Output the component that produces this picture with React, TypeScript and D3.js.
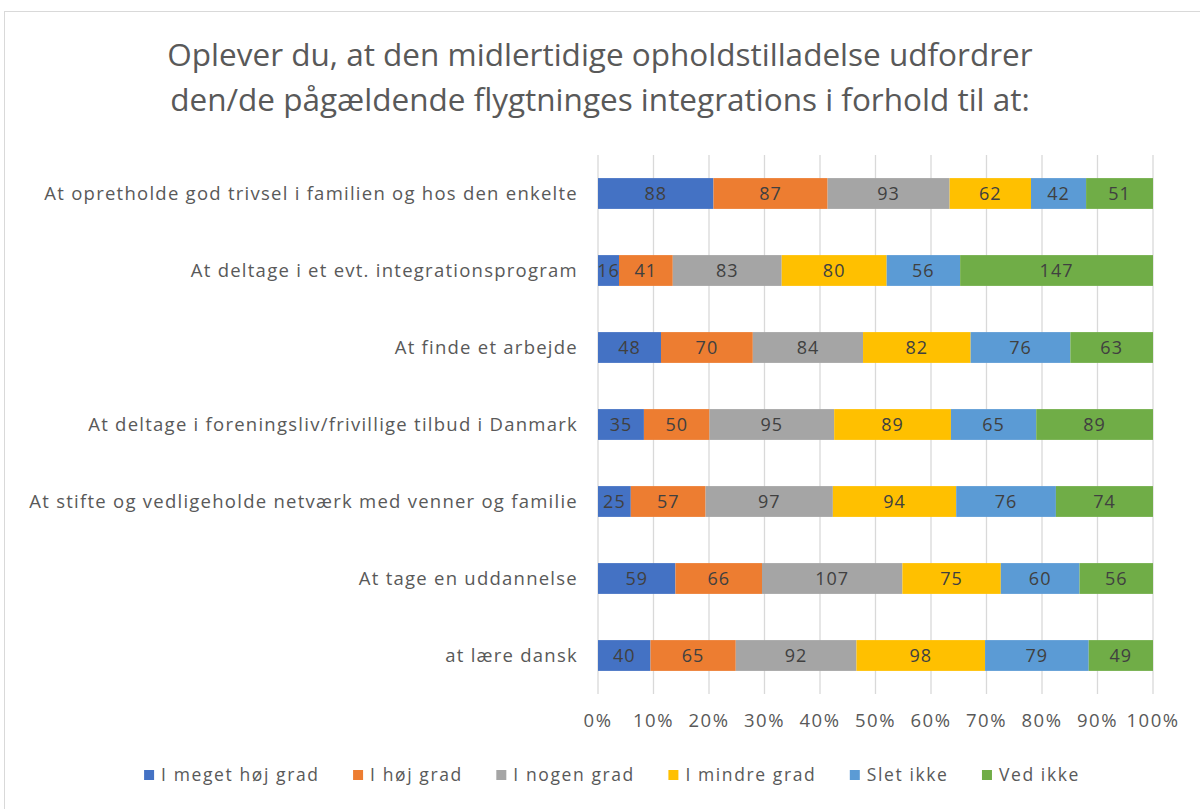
import { useMemo } from 'react';
import * as d3 from 'd3';

const categories = [
    'At opretholde god trivsel i familien og hos den enkelte',
    'At deltage i et evt. integrationsprogram',
    'At finde et arbejde',
    'At deltage i foreningsliv/frivillige tilbud i Danmark',
    'At stifte og vedligeholde netværk med venner og familie',
    'At tage en uddannelse',
    'at lære dansk',
];
const seriesNames = ['I meget høj grad', 'I høj grad', 'I nogen grad', 'I mindre grad', 'Slet ikke', 'Ved ikke'];
const megetHoej = [88, 16, 48, 35, 25, 59, 40];
const hoej = [87, 41, 70, 50, 57, 66, 65];
const nogen = [93, 83, 84, 95, 97, 107, 92];
const mindre = [62, 80, 82, 89, 94, 75, 98];
const sletIkke = [42, 56, 76, 65, 76, 60, 79];
const vedIkke = [51, 147, 63, 89, 74, 56, 49];
const tickValues = [0, 0.1, 0.2, 0.3, 0.4, 0.5, 0.6, 0.7, 0.8, 0.9, 1];
const titleLines = [
    'Oplever du, at den midlertidige opholdstilladelse udfordrer',
    'den/de pågældende flygtninges integrations i forhold til at:',
];

const colors = ['#4472C4', '#ED7D31', '#A5A5A5', '#FFC000', '#5B9BD5', '#70AD47'];
const font = '"Open Sans", "Noto Sans", sans-serif';
const textColor = '#595959';

const W = 1200;
const H = 809;
const plot = { left: 598, right: 1153, top: 155, bottom: 694 };

export default function App() {
    const values = [megetHoej, hoej, nogen, mindre, sletIkke, vedIkke];

    // 100% stacked rows
    const rows = useMemo(() => categories.map((cat, i) => {
        const vals = values.map(s => s[i]);
        const total = d3.sum(vals);
        let acc = 0;
        return {
            cat,
            segs: vals.map((v, k) => {
                const x0 = acc / total;
                acc += v;
                return { v, k, x0, x1: acc / total };
            }),
        };
    }), []);

    const xScale = d3.scaleLinear().domain([0, 1]).range([plot.left, plot.right]);
    const yScale = d3.scaleBand<string>()
        .domain(categories)
        .range([plot.top, plot.bottom])
        .paddingInner(0.6)
        .paddingOuter(0.3);

    // legend layout, measured with canvas
    const legendFs = 17.5;
    const legendLs = 1.6;
    const legend = useMemo(() => {
        const ctx = document.createElement('canvas').getContext('2d')!;
        ctx.font = `${legendFs}px ${font}`;
        const items = seriesNames.map(n => ({
            n, w: 17 + ctx.measureText(n).width + legendLs * n.length,
        }));
        const gap = 33.5;
        const total = d3.sum(items, d => d.w) + gap * (items.length - 1);
        let x = (W - total) / 2 + 12;
        return items.map(it => {
            const r = { ...it, x };
            x += it.w + gap;
            return r;
        });
    }, []);

    return (
        <svg width={W} height={H} style={{ position: 'absolute', left: 0, top: 0, background: '#fff' }}>
            <rect x={4.5} y={11.5} width={W + 10} height={H + 10} fill="#fff" stroke="#D9D9D9" />
            {titleLines.map((t, i) => (
                <text key={i} x={600} y={66 + i * 45} textAnchor="middle" fontFamily={font}
                    fontSize={31.5} fill={textColor}>{t}</text>
            ))}
            {tickValues.map(t => (
                <line key={t} x1={xScale(t)} x2={xScale(t)} y1={plot.top} y2={plot.bottom}
                    stroke="#D9D9D9" strokeWidth={1.3} />
            ))}
            {rows.map(r => (
                <g key={r.cat}>
                    <text x={578} y={(yScale(r.cat) || 0) + yScale.bandwidth() / 2} dy="0.35em"
                        textAnchor="end" fontFamily={font} fontSize={18.5} letterSpacing={1.25}
                        fill={textColor}>{r.cat}</text>
                    {r.segs.map(s => (
                        <g key={s.k}>
                            <rect x={xScale(s.x0)} y={yScale(r.cat)} width={xScale(s.x1) - xScale(s.x0)}
                                height={yScale.bandwidth()} fill={colors[s.k]} />
                            <text x={(xScale(s.x0) + xScale(s.x1)) / 2}
                                y={(yScale(r.cat) || 0) + yScale.bandwidth() / 2} dy="0.36em"
                                textAnchor="middle" fontFamily={font} fontSize={18} letterSpacing={1}
                                fill="#404040">{s.v}</text>
                        </g>
                    ))}
                </g>
            ))}
            {tickValues.map(t => (
                <text key={t} x={xScale(t)} y={721} dy="0.35em" textAnchor="middle" fontFamily={font}
                    fontSize={18.5} letterSpacing={1.5} fill={textColor}>{d3.format('.0%')(t)}</text>
            ))}
            {legend.map((l, i) => (
                <g key={l.n} transform={`translate(${l.x},775)`}>
                    <rect x={0} y={-5} width={10} height={10} fill={colors[i]} />
                    <text x={17} y={0} dy="0.35em" fontFamily={font} fontSize={legendFs}
                        letterSpacing={legendLs} fill={textColor}>{l.n}</text>
                </g>
            ))}
        </svg>
    );
}
